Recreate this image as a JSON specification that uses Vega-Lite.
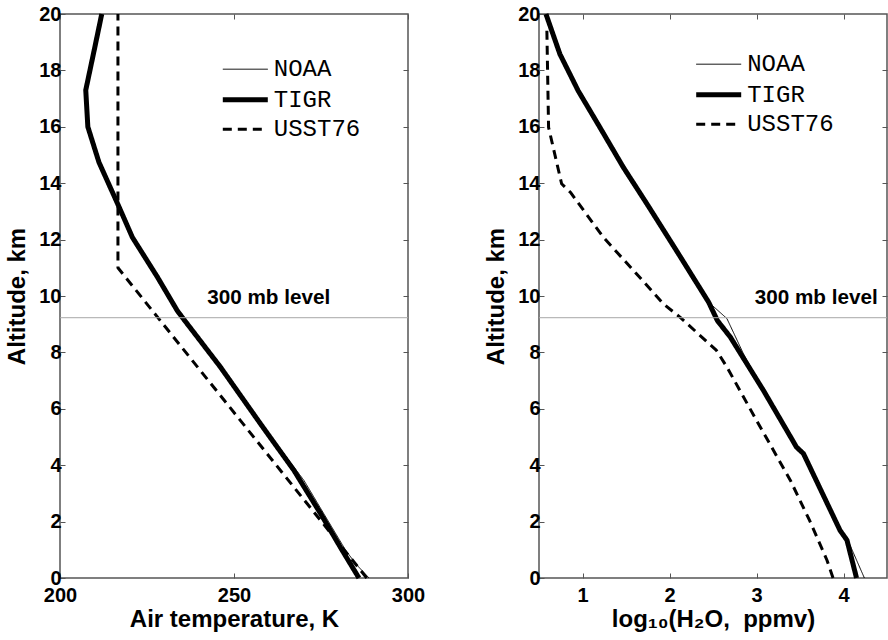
{
  "$schema": "https://vega.github.io/schema/vega-lite/v6.json",
  "background": "white",
  "padding": {"left": 5, "top": 3, "right": 0, "bottom": 0},
  "datasets": {
    "temp": [
      {"series": "TIGR", "alt": 20, "T": 212.0},
      {"series": "TIGR", "alt": 18.7, "T": 209.8},
      {"series": "TIGR", "alt": 17.3, "T": 207.4},
      {"series": "TIGR", "alt": 16.0, "T": 208.0},
      {"series": "TIGR", "alt": 14.74, "T": 211.2},
      {"series": "TIGR", "alt": 13.15, "T": 217.0},
      {"series": "TIGR", "alt": 12.08, "T": 220.8},
      {"series": "TIGR", "alt": 10.67, "T": 228.0},
      {"series": "TIGR", "alt": 9.48, "T": 233.7},
      {"series": "TIGR", "alt": 9.2, "T": 235.4},
      {"series": "TIGR", "alt": 7.48, "T": 246.1},
      {"series": "TIGR", "alt": 5.47, "T": 257.6},
      {"series": "TIGR", "alt": 3.82, "T": 267.2},
      {"series": "TIGR", "alt": 2.28, "T": 274.9},
      {"series": "TIGR", "alt": 1.0, "T": 281.0},
      {"series": "TIGR", "alt": 0, "T": 285.9},
      {"series": "NOAA", "alt": 20, "T": 212.0},
      {"series": "NOAA", "alt": 18.7, "T": 209.8},
      {"series": "NOAA", "alt": 17.3, "T": 207.4},
      {"series": "NOAA", "alt": 16.0, "T": 208.0},
      {"series": "NOAA", "alt": 14.74, "T": 211.2},
      {"series": "NOAA", "alt": 13.15, "T": 217.0},
      {"series": "NOAA", "alt": 12.08, "T": 220.8},
      {"series": "NOAA", "alt": 10.67, "T": 228.0},
      {"series": "NOAA", "alt": 9.48, "T": 233.7},
      {"series": "NOAA", "alt": 9.2, "T": 235.4},
      {"series": "NOAA", "alt": 7.48, "T": 246.1},
      {"series": "NOAA", "alt": 5.47, "T": 257.6},
      {"series": "NOAA", "alt": 4.5, "T": 263.8},
      {"series": "NOAA", "alt": 3.46, "T": 270.1},
      {"series": "NOAA", "alt": 2.28, "T": 275.8},
      {"series": "NOAA", "alt": 1.0, "T": 282.0},
      {"series": "NOAA", "alt": 0.5, "T": 285.0},
      {"series": "NOAA", "alt": 0, "T": 288.8},
      {"series": "USST76", "alt": 20, "T": 216.65},
      {"series": "USST76", "alt": 11, "T": 216.65},
      {"series": "USST76", "alt": 0, "T": 288.15}
    ],
    "h2o": [
      {"series": "TIGR", "alt": 20, "v": 0.58},
      {"series": "TIGR", "alt": 18.58, "v": 0.74},
      {"series": "TIGR", "alt": 17.28, "v": 0.95},
      {"series": "TIGR", "alt": 15.98, "v": 1.2},
      {"series": "TIGR", "alt": 14.56, "v": 1.47},
      {"series": "TIGR", "alt": 13.27, "v": 1.74},
      {"series": "TIGR", "alt": 11.61, "v": 2.08},
      {"series": "TIGR", "alt": 9.78, "v": 2.45},
      {"series": "TIGR", "alt": 9.13, "v": 2.55},
      {"series": "TIGR", "alt": 8.54, "v": 2.7},
      {"series": "TIGR", "alt": 6.65, "v": 3.08},
      {"series": "TIGR", "alt": 4.64, "v": 3.46},
      {"series": "TIGR", "alt": 4.41, "v": 3.54},
      {"series": "TIGR", "alt": 1.69, "v": 3.96},
      {"series": "TIGR", "alt": 1.34, "v": 4.04},
      {"series": "TIGR", "alt": 0, "v": 4.15},
      {"series": "NOAA", "alt": 20, "v": 0.58},
      {"series": "NOAA", "alt": 18.58, "v": 0.74},
      {"series": "NOAA", "alt": 17.28, "v": 0.95},
      {"series": "NOAA", "alt": 15.98, "v": 1.2},
      {"series": "NOAA", "alt": 14.56, "v": 1.47},
      {"series": "NOAA", "alt": 13.27, "v": 1.74},
      {"series": "NOAA", "alt": 11.61, "v": 2.08},
      {"series": "NOAA", "alt": 9.78, "v": 2.45},
      {"series": "NOAA", "alt": 9.2, "v": 2.66},
      {"series": "NOAA", "alt": 7.95, "v": 2.85},
      {"series": "NOAA", "alt": 6.65, "v": 3.08},
      {"series": "NOAA", "alt": 4.64, "v": 3.44},
      {"series": "NOAA", "alt": 4.41, "v": 3.52},
      {"series": "NOAA", "alt": 1.69, "v": 3.96},
      {"series": "NOAA", "alt": 1.34, "v": 4.05},
      {"series": "NOAA", "alt": 0, "v": 4.24},
      {"series": "USST76", "alt": 19.5, "v": 0.59},
      {"series": "USST76", "alt": 15.98, "v": 0.61},
      {"series": "USST76", "alt": 13.98, "v": 0.76},
      {"series": "USST76", "alt": 13.68, "v": 0.86},
      {"series": "USST76", "alt": 12.08, "v": 1.24},
      {"series": "USST76", "alt": 10.79, "v": 1.62},
      {"series": "USST76", "alt": 9.72, "v": 1.93},
      {"series": "USST76", "alt": 9.25, "v": 2.12},
      {"series": "USST76", "alt": 8.07, "v": 2.54},
      {"series": "USST76", "alt": 7.48, "v": 2.66},
      {"series": "USST76", "alt": 5.59, "v": 3.0},
      {"series": "USST76", "alt": 3.46, "v": 3.39},
      {"series": "USST76", "alt": 2.04, "v": 3.61},
      {"series": "USST76", "alt": 0.63, "v": 3.81},
      {"series": "USST76", "alt": 0, "v": 3.88}
    ]
  },
  "hconcat": [
    {
      "width": 348,
      "height": 564,
      "layer": [
        {
          "data": {"name": "temp"},
          "mark": {"type": "line", "color": "black", "strokeCap": "butt", "strokeJoin": "round"},
          "encoding": {
            "x": {"field": "T", "type": "quantitative", "scale": {"domain": [200, 300], "nice": false, "zero": false},
                  "axis": {"values": [200, 250, 300], "title": "Air temperature, K", "labelPadding": 12, "titlePadding": 2}},
            "y": {"field": "alt", "type": "quantitative", "scale": {"domain": [0, 20], "nice": false},
                  "axis": {"values": [0, 2, 4, 6, 8, 10, 12, 14, 16, 18, 20], "title": "Altitude, km", "labelPadding": 4, "titlePadding": 9}},
            "order": {"field": "alt", "type": "quantitative"},
            "strokeDash": {"field": "series", "type": "nominal",
                           "scale": {"domain": ["NOAA", "USST76", "TIGR"], "range": [[1, 0], [9, 6], [1, 0]]},
                           "legend": {"values": ["NOAA", "TIGR", "USST76"], "title": null, "orient": "none", "legendX": 167.8, "legendY": 39.7, "symbolType": "M-1.5,0H1.5", "symbolSize": 900, "symbolStrokeColor": "black", "labelOffset": 11, "rowPadding": 0.5, "padding": 0}},
            "strokeWidth": {"field": "series", "type": "nominal",
                            "scale": {"type": "point", "padding": 0, "domain": ["NOAA", "USST76", "TIGR"], "range": [1, 5]},
                            "legend": {"values": ["NOAA", "TIGR", "USST76"], "title": null, "orient": "none", "legendX": 167.8, "legendY": 39.7, "symbolType": "M-1.5,0H1.5", "symbolSize": 900, "symbolStrokeColor": "black", "labelOffset": 11, "rowPadding": 0.5, "padding": 0}}
          }
        },
        {
          "data": {"values": [{"alt": 9.23}]},
          "mark": {"type": "rule", "color": "#a8a8a8", "strokeWidth": 1},
          "encoding": {"y": {"field": "alt", "type": "quantitative", "axis": null}}
        },
        {
          "data": {"values": [{"T": 242.3, "alt": 9.72, "label": "300 mb level"}]},
          "mark": {"type": "text", "align": "left", "baseline": "alphabetic", "font": "Liberation Sans", "fontWeight": "bold", "fontSize": 20.7, "color": "black"},
          "encoding": {
            "x": {"field": "T", "type": "quantitative", "axis": {"orient": "top", "values": [200, 250, 300], "labels": false, "title": null}},
            "y": {"field": "alt", "type": "quantitative", "axis": {"orient": "right", "values": [2, 4, 6, 8, 10, 12, 14, 16, 18], "labels": false, "title": null}},
            "text": {"field": "label"}
          }
        }
      ],
      "resolve": {"axis": {"x": "independent", "y": "independent"}}
    },
    {
      "width": 348,
      "height": 564,
      "layer": [
        {
          "data": {"name": "h2o"},
          "mark": {"type": "line", "color": "black", "strokeCap": "butt", "strokeJoin": "round"},
          "encoding": {
            "x": {"field": "v", "type": "quantitative", "scale": {"domain": [0.5, 4.5], "nice": false, "zero": false},
                  "axis": {"values": [1, 2, 3, 4], "title": "log₁₀(H₂O, \u00a0ppmv)", "labelPadding": 12, "titlePadding": 2}},
            "y": {"field": "alt", "type": "quantitative", "scale": {"domain": [0, 20], "nice": false},
                  "axis": {"values": [0, 2, 4, 6, 8, 10, 12, 14, 16, 18, 20], "title": "Altitude, km", "labelPadding": 4, "titlePadding": 9}},
            "order": {"field": "alt", "type": "quantitative"},
            "strokeDash": {"field": "series", "type": "nominal",
                           "scale": {"domain": ["NOAA", "USST76", "TIGR"], "range": [[1, 0], [9, 6], [1, 0]]},
                           "legend": {"values": ["NOAA", "TIGR", "USST76"], "title": null, "orient": "none", "legendX": 162.2, "legendY": 34.7, "symbolType": "M-1.5,0H1.5", "symbolSize": 900, "symbolStrokeColor": "black", "labelOffset": 11, "rowPadding": 0.5, "padding": 0}},
            "strokeWidth": {"field": "series", "type": "nominal",
                            "scale": {"type": "point", "padding": 0, "domain": ["NOAA", "USST76", "TIGR"], "range": [1, 5]},
                            "legend": {"values": ["NOAA", "TIGR", "USST76"], "title": null, "orient": "none", "legendX": 162.2, "legendY": 34.7, "symbolType": "M-1.5,0H1.5", "symbolSize": 900, "symbolStrokeColor": "black", "labelOffset": 11, "rowPadding": 0.5, "padding": 0}}
          }
        },
        {
          "data": {"values": [{"alt": 9.23}]},
          "mark": {"type": "rule", "color": "#a8a8a8", "strokeWidth": 1},
          "encoding": {"y": {"field": "alt", "type": "quantitative", "axis": null}}
        },
        {
          "data": {"values": [{"v": 4.393, "alt": 9.72, "label": "300 mb level"}]},
          "mark": {"type": "text", "align": "right", "baseline": "alphabetic", "font": "Liberation Sans", "fontWeight": "bold", "fontSize": 20.7, "color": "black"},
          "encoding": {
            "x": {"field": "v", "type": "quantitative", "axis": {"orient": "top", "values": [1, 2, 3, 4], "labels": false, "title": null}},
            "y": {"field": "alt", "type": "quantitative", "axis": {"orient": "right", "values": [2, 4, 6, 8, 10, 12, 14, 16, 18], "labels": false, "title": null}},
            "text": {"field": "label"}
          }
        }
      ],
      "resolve": {"axis": {"x": "independent", "y": "independent"}}
    }
  ],
  "spacing": 131,
  "bounds": "flush",
  "resolve": {
    "scale": {"strokeDash": "independent", "strokeWidth": "independent"},
    "legend": {"strokeDash": "independent", "strokeWidth": "independent"}
  },
  "config": {
    "view": {"stroke": "#555555", "strokeWidth": 1.5},
    "axis": {
      "domain": false, "grid": false, "tickColor": "#555555", "tickSize": -5, "tickWidth": 1,
      "labelFont": "Liberation Sans", "labelFontWeight": "bold", "labelFontSize": 20, "labelColor": "black",
      "titleFont": "Liberation Sans", "titleFontWeight": "bold", "titleFontSize": 24, "titleColor": "black",
      "labelFlush": false, "labelOverlap": false
    },
    "legend": {"labelFont": "Liberation Mono", "labelFontSize": 24, "labelColor": "black", "labelLimit": 0}
  }
}
